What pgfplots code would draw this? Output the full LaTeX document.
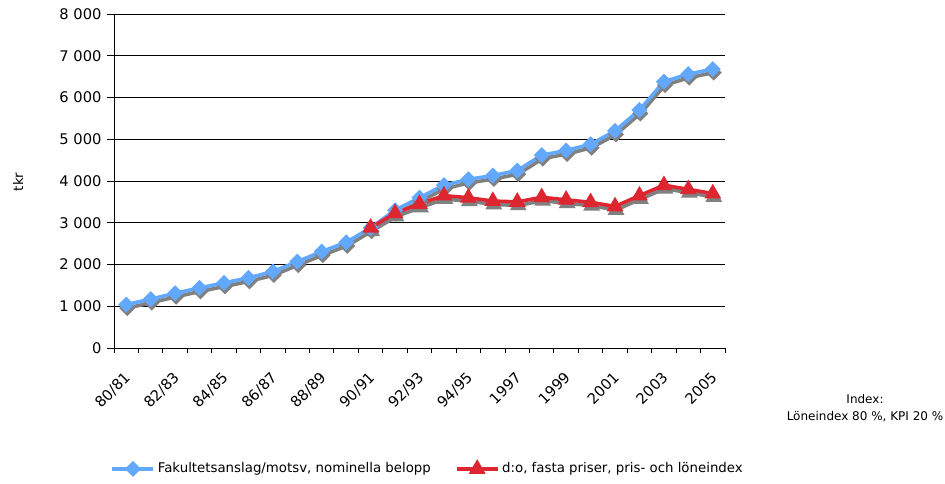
\documentclass[border=0pt]{standalone}
\usepackage{fontspec}
\setmainfont{DejaVu Sans}
\usepackage{pgfplots}
\pgfplotsset{compat=1.18}
\definecolor{bl}{RGB}{98,168,255}
\definecolor{rd}{RGB}{222,38,48}
\definecolor{sh}{RGB}{128,128,128}
\pgfplotstableread{
x y
0 1040
1 1170
2 1310
3 1440
4 1560
5 1680
6 1830
7 2070
8 2310
9 2530
10 2880
11 3300
12 3600
13 3900
14 4040
15 4130
16 4250
17 4620
18 4730
19 4880
20 5200
21 5700
22 6380
23 6560
24 6680
}\nominal
\pgfplotstableread{
x y
10 2880
11 3230
12 3450
13 3650
14 3600
15 3520
16 3500
17 3610
18 3550
19 3490
20 3390
21 3650
22 3900
23 3800
24 3700
}\fasta
\begin{document}
\begin{tikzpicture}
\path[use as bounding box] (0pt,0pt) rectangle (708.75pt,362.25pt);
\begin{axis}[
  at={(85.5pt,101.25pt)}, anchor=south west,
  scale only axis, width=458.25pt, height=250.5pt,
  xmin=-0.5, xmax=24.5, ymin=0, ymax=8000,
  axis x line*=bottom, axis y line*=left,
  axis line style={black, line width=0.75pt, -},
  tick align=outside,
  xtick={0,2,...,24},
  xticklabels={80/81,82/83,84/85,86/87,88/89,90/91,92/93,94/95,1997,1999,2001,2003,2005},
  major x tick style={draw=none},
  minor xtick={-0.5,0.5,...,24.5},
  minor x tick style={black, line width=0.75pt},
  minor tick length=3.5pt,
  ytick={0,1000,...,8000},
  yticklabels={0,1 000,2 000,3 000,4 000,5 000,6 000,7 000,8 000},
  major y tick style={black, line width=0.75pt},
  major tick length=5pt,
  ymajorgrids,
  grid style={black, line width=0.75pt},
  ticklabel style={font=\fontsize{11}{13}\selectfont},
  xticklabel style={rotate=45, anchor=north east, inner sep=0pt, xshift=-10pt, yshift=-7pt},
  yticklabel style={inner sep=0pt, xshift=-4.2pt},
  clip=false,
  legend style={at={(-0.006,-0.362)}, anchor=west, draw=none, fill=none,
    font=\fontsize{10}{12}\selectfont, inner sep=0pt,
    /tikz/every even column/.append style={column sep=16pt}},
  legend columns=2,
  legend image code/.code={\draw[#1,mark repeat=2,mark phase=2] plot coordinates {(0pt,0pt) (15.4pt,0pt) (30.75pt,0pt)};},
]
\addplot[sh, line width=2.7pt, mark=square*, mark size=2.9pt, mark options={rotate=45, solid}, xshift=0.75pt, yshift=-2.6pt, forget plot] table {\nominal};
\addplot[sh, line width=2.7pt, mark=triangle*, mark size=4.6pt, xshift=0.75pt, yshift=-2.6pt, forget plot] table {\fasta};
\addplot[bl, line width=2.7pt, mark=square*, mark size=2.9pt, mark options={rotate=45, solid}] table {\nominal};
\addlegendentry{Fakultetsanslag/motsv, nominella belopp}
\addplot[rd, line width=2.7pt, mark=triangle*, mark size=4.6pt] table {\fasta};
\addlegendentry{d:o, fasta priser, pris- och löneindex}
\end{axis}
\node[rotate=90, font=\fontsize{10}{12}\selectfont] at (13.5pt,225.75pt) {tkr};
\node[align=center, font=\fontsize{9}{12.5}\selectfont] at (648.75pt,56.25pt) {Index:\\Löneindex 80 \%, KPI 20 \%};
\end{tikzpicture}
\end{document}
